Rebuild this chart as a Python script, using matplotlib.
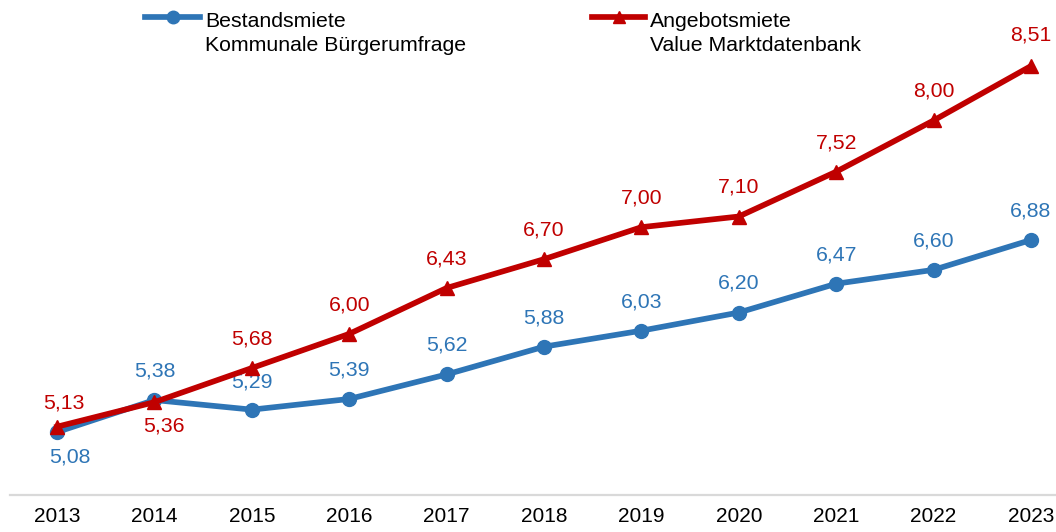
import matplotlib
matplotlib.use('Agg')
import matplotlib.pyplot as plt
from matplotlib.lines import Line2D

# Data
years = [2013, 2014, 2015, 2016, 2017, 2018, 2019, 2020, 2021, 2022, 2023]
bestand = [5.08, 5.38, 5.29, 5.39, 5.62, 5.88, 6.03, 6.20, 6.47, 6.60, 6.88]
angebot = [5.13, 5.36, 5.68, 6.00, 6.43, 6.70, 7.00, 7.10, 7.52, 8.00, 8.51]

bestand_label = ['Bestandsmiete', 'Kommunale Bürgerumfrage']
angebot_label = ['Angebotsmiete', 'Value Marktdatenbank']

# label placement (offset in points, + above / - below)
bestand_dy = [-18, 21, 20, 21, 21, 21, 21, 21, 21, 21, 21]
bestand_dx = [9, 0, 0, 0, 0, 0, 0, 0, 0, 0, 0]
angebot_dy = [17, -17, 21, 21, 21, 21, 21, 21, 21, 21, 22]
angebot_dx = [5, 7, 0, 0, 0, 0, 0, 0, 0, 0, 0]

blue = '#2E75B6'
red = '#C00000'

plt.rcParams['font.family'] = ['Liberation Sans', 'DejaVu Sans']
fs = 15.3

W, H = 1056, 532
fig = plt.figure(figsize=(W / 100, H / 100), dpi=100)
ax = fig.add_axes([10 / W, 37 / H, 1046 / W, 495 / H])

ax.plot(years, bestand, color=blue, lw=4.1, marker='o', ms=10, zorder=3)
ax.plot(years, angebot, color=red, lw=4.1, marker='^', ms=10.5, zorder=4)

for x, y, dx, dy in zip(years, bestand, bestand_dx, bestand_dy):
    ax.annotate(f'{y:.2f}'.replace('.', ','), (x, y), xytext=(dx, dy),
                textcoords='offset points', ha='center', va='center',
                color=blue, fontsize=fs)
for x, y, dx, dy in zip(years, angebot, angebot_dx, angebot_dy):
    ax.annotate(f'{y:.2f}'.replace('.', ','), (x, y), xytext=(dx, dy),
                textcoords='offset points', ha='center', va='center',
                color=red, fontsize=fs)

ax.set_xlim(2012.517, 2023.257)
ax.set_ylim(4.49, 9.129)
ax.set_xticks(years)
ax.set_xticklabels([str(y) for y in years], fontsize=15)
ax.tick_params(axis='x', length=0, pad=9)
ax.set_yticks([])
for s in ['top', 'right', 'left']:
    ax.spines[s].set_visible(False)
ax.spines['bottom'].set_color('#D9D9D9')
ax.spines['bottom'].set_linewidth(1.6)
ax.patch.set_alpha(0)

# legend drawn by hand
def legend_entry(x0, x1, color, marker, lines):
    yy = 1 - 17 / H
    fig.add_artist(Line2D([x0 / W, (x0 + x1) / 2 / W, x1 / W], [yy, yy, yy],
                          transform=fig.transFigure, color=color, lw=4.1,
                          marker=marker, ms=9, markevery=[1]))
    fig.text((x1 + 5) / W, 1 - 27 / H, lines[0], fontsize=fs, va='baseline')
    fig.text((x1 + 5) / W, 1 - 51 / H, lines[1], fontsize=fs, va='baseline')

legend_entry(145, 200, blue, 'o', bestand_label)
legend_entry(592, 645, red, '^', angebot_label)

fig.savefig('out.png', dpi=100)
